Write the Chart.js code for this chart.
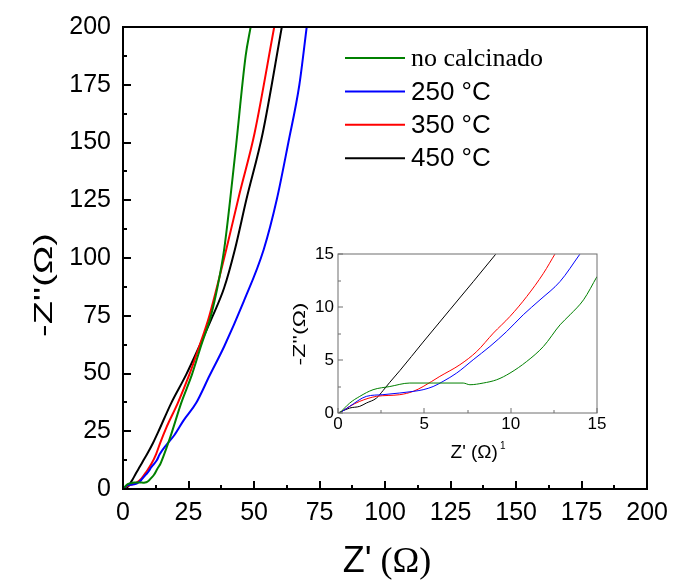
<!DOCTYPE html>
<html><head><meta charset="utf-8">
<script src="https://cdn.jsdelivr.net/npm/chart.js@4.4.0/dist/chart.umd.min.js"></script>
<style>
html,body{margin:0;padding:0;background:#fff;}
#wrap{position:relative;width:677px;height:581px;overflow:hidden;}
#main{position:absolute;left:0;top:0;}
#inset{position:absolute;left:290px;top:240px;}
</style></head><body>
<div id="wrap"><canvas id="main" width="677" height="581"></canvas><canvas id="inset" width="330" height="235"></canvas></div>
<script>
// ---------- DATA ----------
const seriesLabels = ['no calcinado', '250 °C', '350 °C', '450 °C'];
const mainTicks = [0, 25, 50, 75, 100, 125, 150, 175, 200];
const insetTicks = [0, 5, 10, 15];

// main chart (Z', -Z'') in ohm
const mainX_noCalc = [0, 0.7, 1.3, 2.0, 3.0, 4.2, 5.5, 7.3, 7.6, 8.4, 9.2, 10.0, 10.9, 11.9, 12.9, 13.4, 14.2, 15.0, 16.5, 18.2, 22.2, 26.3, 29.7, 33.5, 36.0, 38.6, 42.8, 46.8, 48.7];
const mainY_noCalc = [0, 0.9, 1.6, 2.2, 2.5, 2.8, 2.8, 2.8, 2.7, 2.8, 3.1, 3.8, 4.9, 6.3, 8.3, 9.3, 10.7, 12.9, 17.5, 23.0, 37.2, 49.5, 61.7, 74.8, 87.1, 103.7, 145.0, 187.5, 200];
const mainX_250 = [0, 0.7, 1.6, 3.6, 4.9, 5.5, 6.1, 6.9, 7.8, 8.8, 9.8, 10.7, 11.7, 12.9, 14.0, 16.5, 19.7, 23.0, 27.9, 33.0, 38.6, 46.0, 53.7, 58.7, 63.1, 67.3, 70.1];
const mainY_250 = [0, 0.6, 1.6, 1.9, 2.2, 2.5, 3.0, 3.8, 5.0, 6.3, 7.7, 9.3, 10.7, 12.4, 15.0, 19.0, 23.5, 29.5, 37.2, 49.0, 61.7, 81.0, 103.7, 125.4, 150, 175, 200];
const mainX_350 = [0, 0.7, 2.2, 4.9, 7.1, 9.0, 10.9, 12.6, 14.2, 16.5, 20.9, 25.3, 29.1, 32.9, 39.4, 44.5, 50.2, 57.7];
const mainY_350 = [0, 0.6, 1.6, 2.5, 4.6, 7.6, 11.0, 15.0, 20.0, 26.5, 37.2, 49.5, 61.7, 74.8, 103.7, 128, 154, 200];
const mainX_450 = [0, 1.3, 2.2, 2.6, 3.0, 3.6, 4.9, 6.5, 7.8, 9.15, 11.5, 13.4, 18.4, 24.1, 29.1, 34.2, 38.6, 42.7, 47.1, 53.3, 60.6];
const mainY_450 = [0, 0.6, 1.4, 2.1, 2.9, 4.0, 6.7, 9.8, 12.4, 15.0, 20.0, 24.6, 37.2, 49.5, 61.7, 74.8, 87.1, 103.7, 125.4, 154, 200];

// inset (zoom of low-impedance region)
const insetX_noCalc = [0.1, 0.68, 1.26, 2.03, 3.0, 4.16, 5.51, 7.25, 7.64, 8.41, 9.19, 9.96, 10.93, 11.9, 12.86, 13.44, 14.22, 15.0];
const insetY_noCalc = [0, 0.94, 1.57, 2.2, 2.5, 2.83, 2.83, 2.83, 2.67, 2.83, 3.14, 3.77, 4.87, 6.29, 8.33, 9.28, 10.69, 12.89];
const insetX_250 = [0.1, 0.68, 1.64, 2.6, 3.58, 4.35, 4.93, 5.51, 6.09, 6.87, 7.83, 8.8, 9.77, 10.73, 11.7, 12.86, 14.02];
const insetY_250 = [0, 0.63, 1.57, 1.73, 1.89, 2.04, 2.2, 2.5, 2.99, 3.77, 5.03, 6.29, 7.7, 9.28, 10.69, 12.42, 15.03];
const insetX_350 = [0.1, 0.68, 1.26, 2.22, 3.58, 4.35, 4.93, 5.9, 7.06, 8.03, 9.0, 9.96, 10.93, 11.9, 12.57];
const insetY_350 = [0, 0.63, 1.1, 1.57, 1.73, 2.04, 2.5, 3.46, 4.56, 5.8, 7.55, 9.12, 11.0, 13.2, 15.03];
const insetX_450 = [0, 0.68, 1.26, 1.64, 2.22, 2.6, 3.0, 3.58, 4.93, 6.48, 7.83, 9.15];
const insetY_450 = [0, 0.47, 0.63, 0.94, 1.4, 2.1, 2.9, 4.0, 6.7, 9.75, 12.4, 15.03];

// ---------- STYLE ----------
const SANS = "'Liberation Sans', Arial, sans-serif";
const SERIF = "'Liberation Serif', 'Times New Roman', serif";
const colors = ['#008000', '#0000ff', '#ff0000', '#000000'];
const legendFamilies = [SERIF, SANS, SANS, SANS];

function pts(xs, ys) { return xs.map((x, i) => ({ x: x, y: ys[i] })); }

const framePlugin = {
  id: 'frame',
  afterDatasetsDraw(chart, args, o) {
    const ctx = chart.ctx, a = chart.chartArea;
    const xs = chart.scales.x, ys = chart.scales.y;
    ctx.save();
    ctx.strokeStyle = o.color;
    ctx.lineWidth = o.lineWidth;
    ctx.beginPath();
    for (let v = xs.min; v <= xs.max + 1e-9; v += o.minorX) {
      const major = Math.abs(v / o.majorX - Math.round(v / o.majorX)) < 1e-6;
      const len = major ? o.majorLen : o.minorLen;
      const px = Math.round(xs.getPixelForValue(v));
      ctx.moveTo(px, a.bottom); ctx.lineTo(px, a.bottom - len);
    }
    for (let v = ys.min; v <= ys.max + 1e-9; v += o.minorY) {
      const major = Math.abs(v / o.majorY - Math.round(v / o.majorY)) < 1e-6;
      const len = major ? o.majorLen : o.minorLen;
      const py = Math.round(ys.getPixelForValue(v));
      ctx.moveTo(a.left, py); ctx.lineTo(a.left + len, py);
    }
    ctx.stroke();
    ctx.strokeRect(Math.round(a.left), Math.round(a.top), Math.round(a.right - a.left), Math.round(a.bottom - a.top));
    ctx.restore();

    ctx.save();
    ctx.fillStyle = '#000';
    const xt = o.xTitle;
    let total = 0;
    xt.parts.forEach(p => { ctx.font = p.font; p.w = ctx.measureText(p.text).width; total += p.w; });
    let x0 = xt.cx - total / 2;
    ctx.textBaseline = 'alphabetic';
    ctx.textAlign = 'left';
    xt.parts.forEach(p => {
      ctx.font = p.font;
      ctx.fillText(p.text, x0 + (p.dx || 0), xt.baseline + (p.dy || 0));
      x0 += p.w;
    });
    const yt = o.yTitle;
    ctx.translate(yt.cx, yt.cy);
    ctx.rotate(-Math.PI / 2);
    ctx.font = yt.font;
    const w = ctx.measureText(yt.text).width;
    ctx.scale(yt.len / w, 1);
    ctx.textAlign = 'center';
    ctx.textBaseline = 'middle';
    ctx.fillText(yt.text, 0, 0);
    ctx.restore();

    if (o.legend) {
      const L = o.legend;
      ctx.save();
      chart.data.datasets.forEach((ds, i) => {
        const y = L.y0 + i * L.dy;
        ctx.strokeStyle = ds.borderColor;
        ctx.lineWidth = L.lineWidth;
        ctx.beginPath(); ctx.moveTo(L.x0, y); ctx.lineTo(L.x1, y); ctx.stroke();
        ctx.fillStyle = '#000';
        ctx.font = L.size + 'px ' + legendFamilies[i];
        ctx.textAlign = 'left';
        ctx.textBaseline = 'middle';
        ctx.fillText(ds.label, L.tx, y + 1);
      });
      ctx.restore();
    }
  }
};

function makeDatasets(xsList, ysList, bw) {
  return seriesLabels.map((lab, i) => ({
    label: lab,
    data: pts(xsList[i], ysList[i]),
    borderColor: colors[i],
    backgroundColor: colors[i],
    borderWidth: bw,
    pointRadius: 0,
    showLine: true,
    fill: false,
    cubicInterpolationMode: 'monotone'
  }));
}

function axis(min, max, ticksArr, size, pad, fitFn) {
  return {
    type: 'linear', min: min, max: max,
    afterBuildTicks: s => { s.ticks = ticksArr.map(v => ({ value: v })); },
    ticks: { color: '#000', font: { family: SANS, size: size }, padding: pad, maxRotation: 0, autoSkip: false },
    grid: { display: false, drawTicks: false },
    border: { display: false },
    afterFit: fitFn
  };
}

new Chart(document.getElementById('main'), {
  type: 'scatter',
  data: { datasets: makeDatasets(
    [mainX_noCalc, mainX_250, mainX_350, mainX_450],
    [mainY_noCalc, mainY_250, mainY_350, mainY_450], 2) },
  options: {
    responsive: false, maintainAspectRatio: false, animation: false, devicePixelRatio: 1,
    layout: { padding: { left: 0, top: 27, right: 26, bottom: 0 } },
    scales: {
      x: axis(0, 200, mainTicks, 25, 9, s => { s.height = 92; }),
      y: axis(0, 200, mainTicks, 25, 12, s => { s.width = 123; })
    },
    plugins: {
      legend: { display: false }, tooltip: { enabled: false },
      frame: {
        color: '#000', lineWidth: 2, majorX: 25, minorX: 12.5, majorY: 25, minorY: 12.5, majorLen: 8, minorLen: 4,
        xTitle: { cx: 387, baseline: 572, parts: [
          { text: "Z'", font: "36px " + SANS },
          { text: " (Ω)", font: "36px " + SERIF }
        ] },
        yTitle: { text: "-Z''(Ω)", font: "26px " + SANS, cx: 45, cy: 285, len: 104 },
        legend: { x0: 345, x1: 405, tx: 411, y0: 58, dy: 33.4, lineWidth: 2, size: 26 }
      }
    }
  },
  plugins: [framePlugin]
});

new Chart(document.getElementById('inset'), {
  type: 'scatter',
  data: { datasets: makeDatasets(
    [insetX_noCalc, insetX_250, insetX_350, insetX_450],
    [insetY_noCalc, insetY_250, insetY_350, insetY_450], 1) },
  options: {
    responsive: false, maintainAspectRatio: false, animation: false, devicePixelRatio: 1,
    layout: { padding: { left: 0, top: 14, right: 23, bottom: 0 } },
    scales: {
      x: axis(0, 15, insetTicks, 17, 1, s => { s.height = 62; }),
      y: axis(0, 15, insetTicks, 17, 4, s => { s.width = 48; })
    },
    plugins: {
      legend: { display: false }, tooltip: { enabled: false },
      frame: {
        color: '#6e6e6e', lineWidth: 1, majorX: 5, minorX: 2.5, majorY: 5, minorY: 2.5, majorLen: 5, minorLen: 3,
        xTitle: { cx: 187, baseline: 218, parts: [
          { text: "Z' (Ω)", font: "19px " + SANS },
          { text: "1", font: "10px " + SANS, dy: -9, dx: 2 }
        ] },
        yTitle: { text: "-Z''(Ω)", font: "16px " + SANS, cx: 11, cy: 94, len: 63 }
      }
    }
  },
  plugins: [framePlugin]
});
</script>
</body></html>
